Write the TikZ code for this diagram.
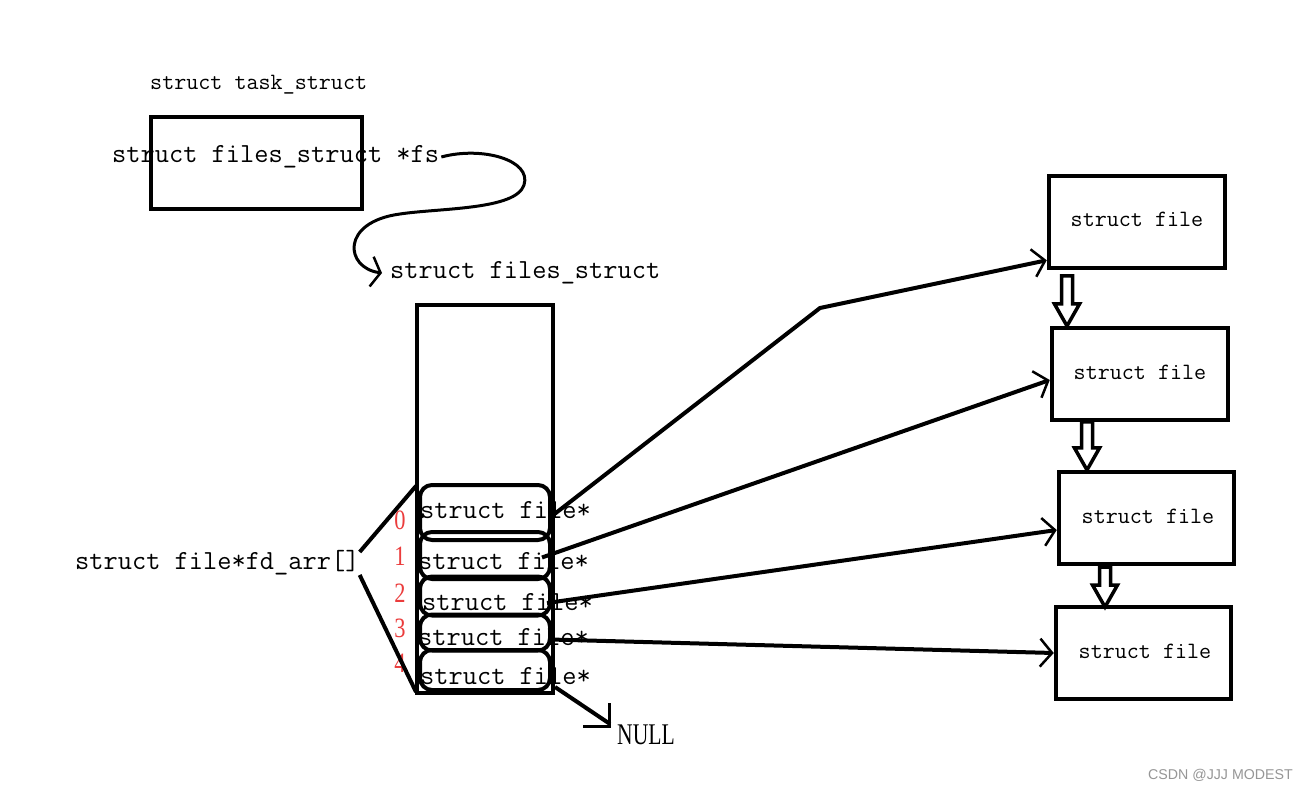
\documentclass[tikz,border=0pt]{standalone}
\usepackage{fontspec}
\setmainfont{Liberation Serif}
\setmonofont{Latin Modern Mono}
\newfontfamily\wsans{Liberation Sans}
\usetikzlibrary{arrows.meta,calc}
\definecolor{idxred}{RGB}{235,60,60}
\definecolor{wmgray}{RGB}{150,150,150}
\tikzset{
 box/.style={draw, line width=4.5pt, rectangle, inner sep=0pt},
 slot/.style={draw, line width=4pt, rounded corners=12pt, inner sep=0pt, minimum width=130pt},
 lbl/.style={inner sep=0pt, anchor=west, font=\ttfamily\fontsize{23.4}{25}\selectfont},
 lblb/.style={inner sep=0pt, anchor=west, font=\ttfamily\fontsize{27.6}{29}\selectfont},
 idx/.style={inner sep=0pt, text=idxred, font=\fontsize{28}{30}\selectfont},
 conn/.style={line width=4pt, -{Straight Barb[length=12pt,width=28pt,line width=2.5pt]}},
 plain/.style={line width=4pt},
 hollow/.style={line width=3.5pt, fill=white, line join=miter},
}
\newcommand\hollowdown[3]{%
 \draw[hollow] (#1-5.5,#2) -- (#1+5.5,#2) -- (#1+5.5,#3-22) -- (#1+12.5,#3-22) -- (#1,#3) -- (#1-12.5,#3-22) -- (#1-5.5,#3-22) -- cycle;}
\begin{document}
\begin{tikzpicture}[x=1pt,y=-1pt]
\useasboundingbox[fill=white] (0,0) rectangle (1307,791);
% task_struct
\node[lbl] (tl) at (150,85) {struct task\_struct};
\node[box, minimum width=211pt, minimum height=92pt] (task) at (256.5,163) {};
\node[lblb] (fs) at (112,157) {struct files\_struct *fs};
\node[lblb] (fsl) at (390,273) {struct files\_struct};
\draw[line width=3pt, -{Straight Barb[length=9pt,width=30pt,line width=2.5pt]}]
 ([xshift=2pt]fs.east) .. controls (482,146) and (532,160) .. (524,185)
 .. controls (516,210) and (440,208) .. (400,214)
 .. controls (340,222) and (345,268) .. ([xshift=-8pt]fsl.west);
% files_struct box
\node[box, minimum width=136pt, minimum height=388pt] (fsbox) at (485,499) {};
\node[slot, minimum height=55pt] (s0) at (485,512.5) {};
\node[slot, minimum height=47pt] (s1) at (485,555.5) {};
\node[slot, minimum height=39pt] (s2) at (485,596) {};
\node[slot, minimum height=36pt] (s3) at (485,632.5) {};
\node[slot, minimum height=40pt] (s4) at (485,670) {};
\node[lblb] (t0) at (420,510) {struct file*};
\node[lblb] (t1) at (418,561) {struct file*};
\node[lblb] (t2) at (422,602) {struct file*};
\node[lblb] (t3) at (418,637) {struct file*};
\node[lblb] (t4) at (420,676) {struct file*};
\node[idx] (i0) at (400,520) {\scalebox{0.8}[1]{0}};
\node[idx] (i1) at (400,556) {\scalebox{0.8}[1]{1}};
\node[idx] (i2) at (400,593) {\scalebox{0.8}[1]{2}};
\node[idx] (i3) at (400,628) {\scalebox{0.8}[1]{3}};
\node[idx] (i4) at (400,663) {\scalebox{0.8}[1]{4}};
% fd_arr
\node[lblb] (fd) at (75,563) {struct file*fd\_arr[]};
\draw[plain] ([yshift=11pt]fd.east) -- ([xshift=-2pt,yshift=-3pt]s0.north west);
\draw[plain] ([yshift=-12pt]fd.east) -- ([xshift=-2pt]s4.south west);
% struct file boxes
\node[box, minimum width=176pt, minimum height=92pt] (b1) at (1137,222) {};
\node[box, minimum width=176pt, minimum height=92pt] (b2) at (1140,374) {};
\node[box, minimum width=175pt, minimum height=92pt] (b3) at (1146.5,518) {};
\node[box, minimum width=175pt, minimum height=92pt] (b4) at (1143.5,653) {};
\node[lbl, anchor=center] (l1) at (1137,219) {struct file};
\node[lbl, anchor=center] (l2) at (1140,372) {struct file};
\node[lbl, anchor=center] (l3) at (1148,516) {struct file};
\node[lbl, anchor=center] (l4) at (1145,651) {struct file};
\hollowdown{1067}{276}{326}
\hollowdown{1087}{422}{470}
\hollowdown{1105}{567}{607}
% pointers
\coordinate (bend) at (820,308);
\draw[conn] ([xshift=-2pt,yshift=-5pt]s0.east) -- (bend) -- ([yshift=10pt]b1.south west);
\draw[conn] ([xshift=-10pt,yshift=-2pt]s1.east) -- ([yshift=-6pt]b2.west);
\draw[conn] ([xshift=-5pt,yshift=-7pt]s2.east) -- ([yshift=-12pt]b3.west);
\draw[conn] ([xshift=-2pt,yshift=-7pt]s3.east) -- (b4.west);
% NULL
\coordinate (nullpt) at (610,724);
\draw[plain] ([xshift=3pt,yshift=5pt]s4.south east) -- (nullpt);
\draw[line width=3pt] (609,703) -- (609,726) -- (583,726);
\node[inner sep=0pt, anchor=west, font=\fontsize{30}{32}\selectfont] (null) at (617,735) {\scalebox{0.72}[1]{NULL}};
% watermark
\node[inner sep=0pt, anchor=west, text=wmgray, font=\wsans\fontsize{14.2}{16}\selectfont] (wm) at (1148,775) {CSDN @JJJ MODEST};
\end{tikzpicture}
\end{document}
